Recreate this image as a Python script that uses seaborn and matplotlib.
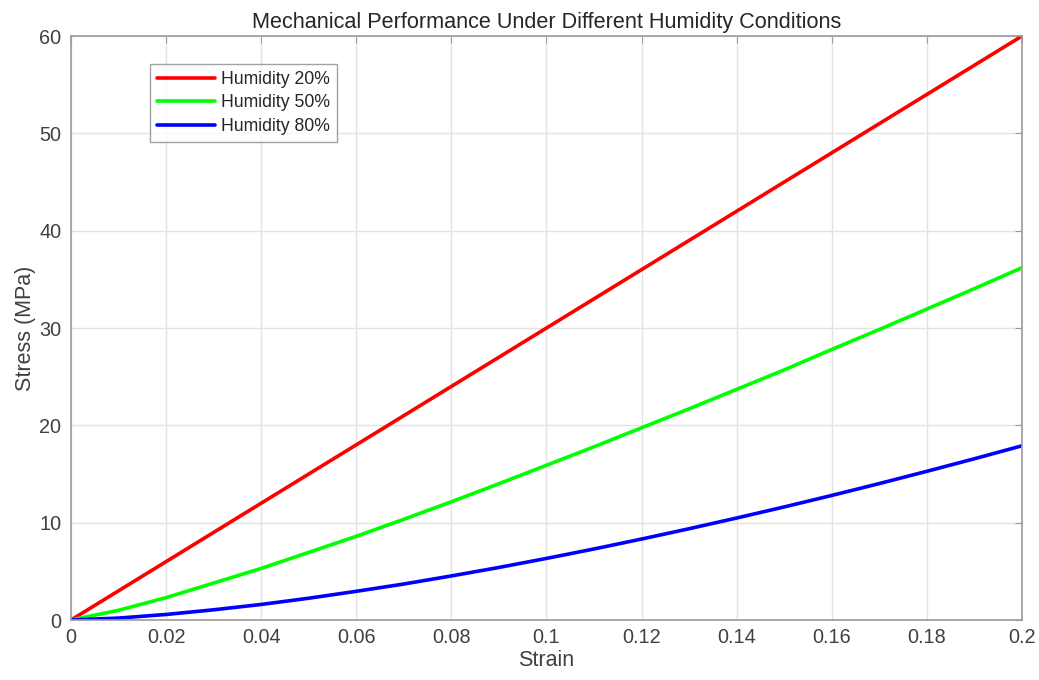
import pandas as pd
import numpy as np
import matplotlib.pyplot as plt
import seaborn as sns

# values, strain steps of 0.01
strain = [0.00, 0.01, 0.02, 0.03, 0.04, 0.05, 0.06, 0.07, 0.08, 0.09, 0.10,
          0.11, 0.12, 0.13, 0.14, 0.15, 0.16, 0.17, 0.18, 0.19, 0.20]
stress_20 = [0, 3, 6, 9, 12, 15, 18, 21, 24, 27, 30,
             33, 36, 39, 42, 45, 48, 51, 54, 57, 60]
stress_50 = [0, 1.0, 2.3, 3.8, 5.3, 6.95, 8.6, 10.35, 12.15, 14.0, 15.9,
             17.8, 19.75, 21.7, 23.7, 25.7, 27.8, 29.85, 31.95, 34.05, 36.2]
stress_80 = [0, 0.2, 0.57, 1.05, 1.6, 2.24, 2.95, 3.7, 4.53, 5.4, 6.33,
             7.3, 8.32, 9.38, 10.48, 11.62, 12.8, 14.02, 15.28, 16.57, 17.9]
labels = ["Humidity 20%", "Humidity 50%", "Humidity 80%"]
colors = ["#ff0000", "#00ff00", "#0000ff"]

df = pd.concat([
    pd.DataFrame({"Strain": strain, "Stress": s, "Condition": lab})
    for s, lab in zip([stress_20, stress_50, stress_80], labels)
])

sns.set_style("white")
plt.rcParams['font.family'] = ['Liberation Sans', 'DejaVu Sans']

fig = plt.figure(figsize=(10.39, 6.8), dpi=100)
ax = fig.add_axes([0.0683, 0.0882, 0.9153, 0.8588])

sns.lineplot(data=df, x="Strain", y="Stress", hue="Condition",
             palette=colors, linewidth=2.6, ax=ax)

ax.set_xlim(0, 0.2)
ax.set_ylim(0, 60)
ax.set_xticks(np.arange(0, 0.2001, 0.02))
ax.set_xticklabels(["0", "0.02", "0.04", "0.06", "0.08", "0.1", "0.12",
                    "0.14", "0.16", "0.18", "0.2"])
ax.set_yticks(range(0, 61, 10))
ax.grid(True, color="#e3e3e3", linewidth=1)
ax.set_axisbelow(True)
for sp in ax.spines.values():
    sp.set_visible(True)
    sp.set_color("#9a9a9a")
    sp.set_linewidth(1.2)
ax.tick_params(direction="in", length=5, color="#9a9a9a", labelsize=14.3,
               labelcolor="#404040", top=True, right=True,
               labeltop=False, labelright=False)
ax.tick_params(axis="x", pad=6)
ax.tick_params(axis="y", pad=7)
ax.set_xlabel("Strain", fontsize=15.5, color="#404040", labelpad=2)
ax.set_ylabel("Stress (MPa)", fontsize=15.5, color="#404040", labelpad=2)
ax.set_title("Mechanical Performance Under Different Humidity Conditions",
             fontsize=15.6, color="#262626", pad=6)

leg = ax.legend(loc="upper left", bbox_to_anchor=(0.083, 0.952), fontsize=12.7,
                frameon=True, fancybox=False, handlelength=3.3,
                borderpad=0.4, labelspacing=0.36, handletextpad=0.35,
                borderaxespad=0)
leg.get_frame().set_edgecolor("#8c8c8c")
leg.get_frame().set_linewidth(1)
for line in leg.get_lines():
    line.set_linewidth(2.6)

fig.savefig("out.png", dpi=100)
